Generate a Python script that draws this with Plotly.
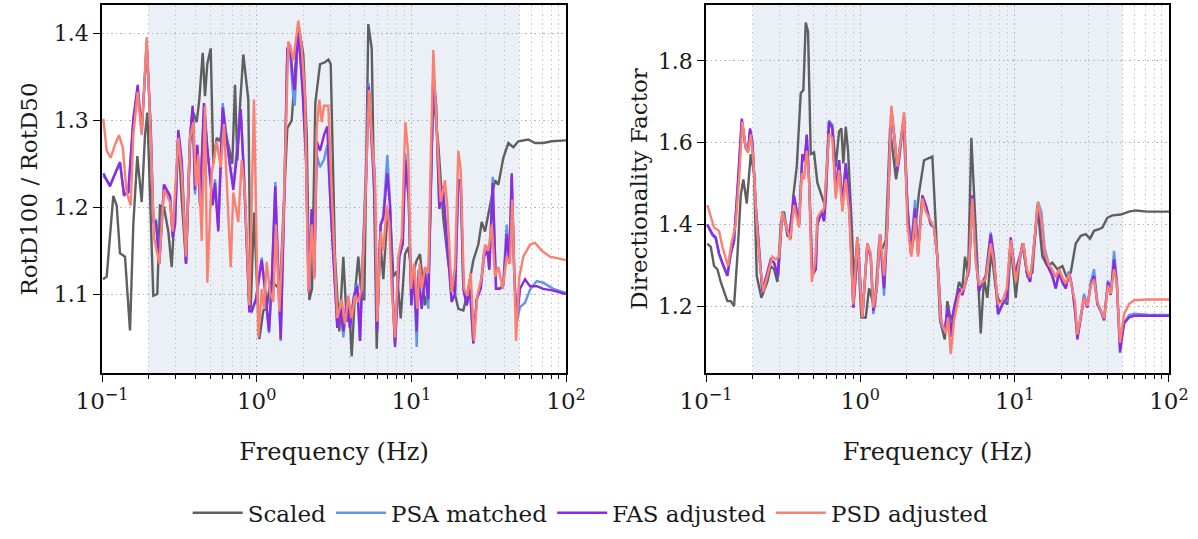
import plotly.graph_objects as go

# ---------------- data (log10 of frequency in Hz, and ratio values) ----------------
left_scaled_logf = [-0.9935,-0.9696,-0.9270,-0.9050,-0.8836,-0.8513,-0.8190,-0.7976,-0.7718,-0.7433,-0.7220,-0.7071,-0.6683,-0.6425,-0.6250,-0.5991,-0.5713,-0.5494,-0.5280,-0.5067,-0.4847,-0.4569,-0.4310,-0.4097,-0.3877,-0.3709,-0.3489,-0.3341,-0.3192,-0.2972,-0.2804,-0.2584,-0.2371,-0.2157,-0.1834,-0.1576,-0.1401,-0.1252,-0.1078,-0.0864,-0.0541,-0.0386,-0.0173,0.0170,0.0429,0.0648,0.0862,0.1036,0.1508,0.1980,0.2265,0.2368,0.2692,0.3015,0.3235,0.3403,0.3577,0.3791,0.4095,0.4418,0.4631,0.4786,0.5064,0.5342,0.5601,0.5821,0.5989,0.6144,0.6357,0.6571,0.6791,0.6959,0.7114,0.7217,0.7437,0.7586,0.7760,0.7974,0.8187,0.8407,0.8620,0.8834,0.9054,0.9312,0.9590,0.9803,1.0043,1.0347,1.0560,1.0883,1.1097,1.1420,1.1743,1.2067,1.2390,1.2713,1.3036,1.3360,1.3683,1.4006,1.4329,1.4549,1.4763,1.5086,1.5409,1.5622,1.5946,1.6269,1.6592,1.6915,1.7562,1.7995,1.8532,1.9075,2.0]
left_scaled_val = [1.117,1.120,1.213,1.202,1.147,1.143,1.058,1.180,1.259,1.206,1.283,1.309,1.098,1.100,1.202,1.200,1.172,1.131,1.202,1.283,1.209,1.135,1.272,1.309,1.298,1.324,1.378,1.328,1.365,1.383,1.250,1.280,1.276,1.298,1.272,1.250,1.341,1.254,1.317,1.376,1.324,1.083,1.194,1.048,1.081,1.083,1.113,1.113,1.106,1.291,1.300,1.328,1.411,1.376,1.283,1.093,1.106,1.320,1.365,1.367,1.370,1.365,1.143,1.057,1.143,1.068,1.083,1.028,1.102,1.143,1.094,1.094,1.328,1.411,1.383,1.217,1.037,1.165,1.117,1.180,1.198,1.120,1.126,1.072,1.146,1.154,1.120,1.139,1.146,1.087,1.106,1.331,1.272,1.187,1.135,1.109,1.083,1.081,1.106,1.139,1.157,1.183,1.172,1.202,1.231,1.226,1.257,1.274,1.269,1.276,1.278,1.274,1.274,1.276,1.277]

left_adj_logf = [-0.9914,-0.9483,-0.9050,-0.8836,-0.8578,-0.8300,-0.7976,-0.7692,-0.7433,-0.7110,-0.6851,-0.6683,-0.6509,-0.6295,-0.5991,-0.5817,-0.5604,-0.5429,-0.5280,-0.5067,-0.4847,-0.4569,-0.4310,-0.4136,-0.3987,-0.3838,-0.3664,-0.3405,-0.3192,-0.2843,-0.2694,-0.2481,-0.2196,-0.1983,-0.1724,-0.1511,-0.1291,-0.1032,-0.0819,-0.0476,-0.0321,-0.0043,0.0325,0.0539,0.0797,0.0972,0.1205,0.1399,0.1554,0.1767,0.1980,0.2155,0.2329,0.2459,0.2692,0.2976,0.3190,0.3364,0.3558,0.3726,0.3881,0.4095,0.4353,0.4567,0.4786,0.5213,0.5433,0.5601,0.5821,0.6034,0.6293,0.6506,0.6681,0.6894,0.7069,0.7243,0.7457,0.7631,0.7780,0.8019,0.8187,0.8446,0.8620,0.8795,0.8943,0.9222,0.9441,0.9609,0.9829,0.9997,1.0172,1.0347,1.0450,1.0670,1.0883,1.1097,1.1252,1.1420,1.1594,1.1808,1.2028,1.2196,1.2609,1.2823,1.3036,1.3191,1.3360,1.3579,1.3792,1.4006,1.4226,1.4484,1.4698,1.4911,1.5040,1.5260,1.5474,1.5732,1.5946,1.6166,1.6334,1.6489,1.6657,1.6812,1.7025,1.7349,1.7672,1.8105,1.8532,1.9178,2.0]
left_fas_val = [1.239,1.224,1.243,1.252,1.215,1.217,1.302,1.341,1.287,1.390,1.291,1.183,1.183,1.135,1.226,1.220,1.213,1.165,1.180,1.289,1.254,1.135,1.280,1.317,1.220,1.272,1.202,1.320,1.269,1.202,1.228,1.172,1.315,1.283,1.246,1.220,1.257,1.313,1.235,1.080,1.080,1.094,1.139,1.106,1.057,1.113,1.224,1.113,1.048,1.198,1.383,1.387,1.350,1.335,1.409,1.331,1.254,1.102,1.198,1.120,1.276,1.265,1.283,1.293,1.198,1.061,1.083,1.057,1.091,1.061,1.098,1.109,1.046,1.157,1.231,1.339,1.269,1.209,1.057,1.180,1.187,1.239,1.202,1.098,1.039,1.143,1.157,1.254,1.209,1.087,1.128,1.057,1.120,1.083,1.124,1.094,1.217,1.354,1.317,1.198,1.224,1.183,1.091,1.100,1.231,1.231,1.106,1.087,1.106,1.043,1.094,1.106,1.143,1.150,1.128,1.228,1.106,1.106,1.110,1.169,1.135,1.239,1.120,1.068,1.106,1.117,1.109,1.109,1.106,1.104,1.100]
left_psa_val = [1.236,1.226,1.243,1.250,1.213,1.217,1.300,1.336,1.287,1.385,1.291,1.183,1.185,1.137,1.226,1.218,1.213,1.168,1.180,1.285,1.252,1.138,1.280,1.315,1.215,1.270,1.205,1.318,1.266,1.205,1.232,1.175,1.320,1.283,1.246,1.225,1.262,1.310,1.238,1.083,1.080,1.094,1.142,1.106,1.055,1.113,1.229,1.113,1.046,1.198,1.380,1.380,1.335,1.317,1.405,1.335,1.262,1.102,1.198,1.120,1.260,1.246,1.255,1.272,1.198,1.061,1.086,1.050,1.091,1.061,1.098,1.112,1.046,1.160,1.235,1.343,1.270,1.243,1.060,1.180,1.190,1.260,1.205,1.098,1.042,1.143,1.160,1.262,1.209,1.087,1.120,1.039,1.128,1.083,1.130,1.083,1.215,1.350,1.320,1.200,1.224,1.183,1.091,1.100,1.231,1.228,1.108,1.087,1.106,1.043,1.094,1.110,1.150,1.155,1.128,1.235,1.106,1.106,1.113,1.180,1.140,1.236,1.120,1.068,1.085,1.090,1.105,1.115,1.113,1.106,1.101]

left_psd_logf = [-0.9914,-0.9696,-0.9438,-0.9160,-0.8901,-0.8662,-0.8403,-0.8144,-0.7976,-0.7692,-0.7433,-0.7110,-0.6851,-0.6638,-0.6295,-0.5991,-0.5604,-0.5429,-0.5067,-0.4847,-0.4569,-0.4310,-0.4097,-0.3922,-0.3773,-0.3554,-0.3341,-0.3192,-0.2908,-0.2584,-0.2326,-0.2112,-0.1679,-0.1511,-0.1188,-0.0968,-0.0754,-0.0476,-0.0173,0.0105,0.0325,0.0474,0.0648,0.0862,0.1075,0.1250,0.1463,0.1722,0.2045,0.2200,0.2368,0.2692,0.2911,0.3125,0.3338,0.3558,0.3726,0.3881,0.4049,0.4204,0.4353,0.4631,0.4851,0.5213,0.5498,0.5711,0.5924,0.6144,0.6357,0.6571,0.6791,0.6940,0.7114,0.7263,0.7437,0.7650,0.7799,0.8019,0.8187,0.8407,0.8575,0.8730,0.8943,0.9157,0.9377,0.9609,0.9803,0.9978,1.0172,1.0385,1.0540,1.0670,1.0883,1.1097,1.1252,1.1420,1.1637,1.1895,1.2173,1.2322,1.2609,1.2823,1.3036,1.3191,1.3405,1.3618,1.3838,1.4051,1.4265,1.4549,1.4763,1.4976,1.5196,1.5409,1.5622,1.5907,1.6166,1.6379,1.6528,1.6767,1.6980,1.7239,1.7672,1.7995,1.8428,1.8965,2.0]
left_psd_val = [1.302,1.265,1.257,1.272,1.283,1.269,1.217,1.202,1.283,1.333,1.283,1.396,1.283,1.165,1.135,1.220,1.206,1.172,1.280,1.239,1.143,1.280,1.298,1.224,1.261,1.161,1.317,1.113,1.239,1.276,1.246,1.296,1.131,1.217,1.183,1.254,1.217,1.087,1.324,1.050,1.106,1.083,1.137,1.102,1.091,1.180,1.080,1.180,1.391,1.383,1.369,1.415,1.383,1.328,1.102,1.180,1.117,1.291,1.324,1.298,1.317,1.317,1.217,1.072,1.094,1.065,1.098,1.072,1.098,1.091,1.106,1.165,1.254,1.335,1.283,1.224,1.068,1.172,1.150,1.202,1.180,1.106,1.050,1.143,1.165,1.298,1.261,1.106,1.135,1.083,1.135,1.106,1.131,1.124,1.254,1.381,1.291,1.206,1.231,1.202,1.102,1.131,1.265,1.243,1.106,1.098,1.124,1.046,1.098,1.120,1.157,1.150,1.180,1.120,1.131,1.106,1.143,1.135,1.209,1.046,1.120,1.143,1.157,1.159,1.150,1.143,1.139]

right_scaled_logf = [-0.9914,-0.9693,-0.9480,-0.9266,-0.9046,-0.8832,-0.8618,-0.8398,-0.8184,-0.7970,-0.7750,-0.7581,-0.7361,-0.7102,-0.6888,-0.6713,-0.6415,-0.6026,-0.5806,-0.5592,-0.5378,-0.5158,-0.4944,-0.4730,-0.4510,-0.4341,-0.4121,-0.3862,-0.3693,-0.3538,-0.3389,-0.3214,-0.3000,-0.2786,-0.2462,-0.2307,-0.2028,-0.1814,-0.1594,-0.1380,-0.1231,-0.1102,-0.0946,-0.0797,-0.0583,-0.0408,-0.0194,0.0065,0.0350,0.0564,0.0933,0.1212,0.1426,0.1646,0.1924,0.2138,0.2313,0.2508,0.2786,0.3045,0.3305,0.3590,0.3804,0.4128,0.4387,0.4665,0.4886,0.5164,0.5469,0.5637,0.5858,0.6071,0.6395,0.6609,0.6784,0.6979,0.7192,0.7367,0.7627,0.7801,0.8015,0.8229,0.8488,0.8773,0.8987,0.9311,0.9525,0.9745,1.0069,1.0283,1.0497,1.0821,1.1145,1.1469,1.1793,1.2117,1.2441,1.2765,1.3089,1.3413,1.3633,1.3957,1.4281,1.4605,1.4884,1.5143,1.5467,1.5681,1.6005,1.6329,1.6873,1.7411,1.7845,1.8597,2.0]
right_scaled_val = [1.353,1.345,1.298,1.290,1.259,1.235,1.212,1.212,1.200,1.321,1.471,1.510,1.451,1.572,1.525,1.274,1.220,1.259,1.298,1.290,1.259,1.400,1.431,1.372,1.368,1.471,1.541,1.721,1.729,1.894,1.871,1.572,1.576,1.502,1.463,1.447,1.651,1.643,1.541,1.627,1.635,1.549,1.639,1.580,1.416,1.259,1.368,1.172,1.172,1.243,1.196,1.353,1.340,1.361,1.635,1.572,1.510,1.557,1.651,1.447,1.329,1.400,1.478,1.557,1.561,1.566,1.400,1.165,1.118,1.212,1.165,1.188,1.259,1.243,1.321,1.274,1.612,1.478,1.243,1.133,1.267,1.220,1.337,1.243,1.212,1.212,1.204,1.353,1.220,1.298,1.353,1.274,1.282,1.447,1.321,1.298,1.306,1.290,1.298,1.267,1.282,1.353,1.372,1.376,1.365,1.384,1.388,1.392,1.416,1.422,1.424,1.431,1.434,1.431,1.431]

right_adj_logf = [-0.9914,-0.9590,-0.9370,-0.9156,-0.8942,-0.8618,-0.8398,-0.8184,-0.7925,-0.7685,-0.7426,-0.7277,-0.7147,-0.6998,-0.6778,-0.6564,-0.6350,-0.6130,-0.5806,-0.5592,-0.5333,-0.5054,-0.4834,-0.4620,-0.4296,-0.3972,-0.3758,-0.3603,-0.3473,-0.3324,-0.3110,-0.2890,-0.2786,-0.2527,-0.2352,-0.2223,-0.2028,-0.1814,-0.1594,-0.1380,-0.1166,-0.0946,-0.0732,-0.0454,-0.0149,0.0130,0.0454,0.0674,0.0842,0.1063,0.1276,0.1536,0.1750,0.2009,0.2184,0.2397,0.2618,0.2832,0.3045,0.3266,0.3544,0.3739,0.4017,0.4238,0.4562,0.4775,0.4989,0.5249,0.5469,0.5683,0.5858,0.6071,0.6395,0.6609,0.6830,0.7043,0.7257,0.7477,0.7691,0.7905,0.8125,0.8450,0.8663,0.8923,0.9201,0.9486,0.9745,1.0069,1.0173,1.0393,1.0562,1.0782,1.0996,1.1145,1.1365,1.1514,1.1728,1.1948,1.2227,1.2441,1.2661,1.2875,1.3089,1.3309,1.3523,1.3737,1.3912,1.4061,1.4281,1.4495,1.4709,1.4929,1.5143,1.5357,1.5577,1.5791,1.6050,1.6225,1.6439,1.6614,1.6827,1.7087,1.7411,1.7735,1.8597,2.0]
right_fas_val = [1.400,1.376,1.368,1.329,1.306,1.274,1.329,1.361,1.510,1.659,1.588,1.580,1.635,1.604,1.447,1.329,1.235,1.267,1.314,1.306,1.274,1.431,1.400,1.368,1.471,1.400,1.572,1.557,1.620,1.510,1.274,1.290,1.400,1.431,1.408,1.478,1.651,1.635,1.478,1.557,1.447,1.549,1.463,1.196,1.353,1.172,1.353,1.321,1.188,1.243,1.376,1.243,1.400,1.682,1.620,1.533,1.604,1.667,1.439,1.329,1.439,1.329,1.471,1.447,1.400,1.392,1.321,1.157,1.141,1.196,1.125,1.196,1.243,1.227,1.259,1.290,1.471,1.321,1.235,1.259,1.274,1.376,1.314,1.180,1.204,1.220,1.368,1.267,1.300,1.330,1.353,1.282,1.259,1.306,1.384,1.447,1.400,1.321,1.290,1.274,1.243,1.282,1.259,1.243,1.282,1.243,1.188,1.118,1.172,1.220,1.196,1.251,1.274,1.204,1.188,1.165,1.259,1.227,1.314,1.259,1.086,1.157,1.172,1.176,1.176,1.176]
right_psa_val = [1.398,1.373,1.365,1.326,1.304,1.274,1.326,1.358,1.500,1.652,1.585,1.578,1.630,1.600,1.447,1.329,1.238,1.267,1.312,1.306,1.274,1.431,1.400,1.368,1.466,1.400,1.567,1.553,1.615,1.510,1.278,1.290,1.400,1.431,1.408,1.478,1.655,1.638,1.478,1.557,1.447,1.549,1.463,1.196,1.350,1.172,1.350,1.318,1.180,1.243,1.376,1.225,1.400,1.682,1.620,1.533,1.604,1.660,1.450,1.335,1.460,1.335,1.465,1.447,1.400,1.392,1.321,1.150,1.141,1.196,1.125,1.196,1.243,1.227,1.259,1.290,1.465,1.330,1.240,1.259,1.274,1.380,1.320,1.180,1.204,1.215,1.360,1.270,1.300,1.330,1.353,1.282,1.259,1.306,1.390,1.455,1.430,1.340,1.300,1.274,1.243,1.282,1.259,1.243,1.285,1.243,1.188,1.125,1.172,1.230,1.200,1.258,1.290,1.210,1.188,1.168,1.262,1.227,1.335,1.262,1.100,1.160,1.178,1.181,1.179,1.178]

right_psd_logf = [-0.9914,-0.9693,-0.9480,-0.9156,-0.8942,-0.8573,-0.8359,-0.8074,-0.7860,-0.7646,-0.7426,-0.7277,-0.7102,-0.6933,-0.6713,-0.6499,-0.6285,-0.6026,-0.5702,-0.5482,-0.5268,-0.5054,-0.4834,-0.4555,-0.4296,-0.3972,-0.3797,-0.3648,-0.3473,-0.3324,-0.3149,-0.2935,-0.2786,-0.2566,-0.2352,-0.2223,-0.2028,-0.1814,-0.1594,-0.1380,-0.1166,-0.0946,-0.0732,-0.0454,-0.0194,0.0130,0.0454,0.0674,0.0842,0.1063,0.1276,0.1536,0.1750,0.2009,0.2184,0.2397,0.2618,0.2832,0.3045,0.3305,0.3544,0.3739,0.4017,0.4238,0.4562,0.4775,0.4989,0.5210,0.5534,0.5683,0.5858,0.6071,0.6395,0.6719,0.7043,0.7257,0.7477,0.7691,0.8125,0.8450,0.8663,0.8923,0.9201,0.9486,0.9745,1.0069,1.0393,1.0562,1.0782,1.0996,1.1145,1.1365,1.1514,1.1728,1.1948,1.2227,1.2441,1.2661,1.2875,1.3089,1.3309,1.3523,1.3737,1.3912,1.4061,1.4281,1.4495,1.4709,1.4929,1.5143,1.5357,1.5577,1.5791,1.6050,1.6225,1.6439,1.6614,1.6827,1.7087,1.7411,1.7735,1.8597,2.0]
right_psd_val = [1.447,1.416,1.392,1.384,1.345,1.298,1.353,1.400,1.510,1.651,1.588,1.575,1.620,1.557,1.400,1.298,1.235,1.274,1.321,1.314,1.321,1.431,1.400,1.361,1.447,1.392,1.525,1.510,1.580,1.510,1.259,1.306,1.416,1.431,1.439,1.510,1.620,1.612,1.463,1.533,1.431,1.510,1.431,1.204,1.368,1.172,1.353,1.329,1.196,1.243,1.376,1.274,1.400,1.690,1.620,1.541,1.604,1.675,1.400,1.321,1.416,1.321,1.463,1.431,1.408,1.392,1.321,1.165,1.133,1.172,1.082,1.165,1.227,1.243,1.298,1.463,1.306,1.251,1.267,1.353,1.306,1.204,1.212,1.243,1.361,1.259,1.330,1.353,1.290,1.270,1.310,1.400,1.455,1.410,1.330,1.300,1.290,1.270,1.290,1.270,1.255,1.280,1.245,1.210,1.130,1.180,1.220,1.200,1.250,1.265,1.210,1.190,1.170,1.250,1.230,1.290,1.255,1.110,1.180,1.205,1.214,1.216,1.216]

series_names = ["Scaled", "PSA matched", "FAS adjusted", "PSD adjusted"]
series_colors = ["#5f5f5f", "#6495ED", "#8A2BE2", "#FA8072"]
band_hz = [0.2, 50.0]
x_tick_vals = [0.1, 1, 10, 100]
x_tick_text = ["10<sup>\u22121</sup>", "10<sup>0</sup>", "10<sup>1</sup>", "10<sup>2</sup>"]
y_title_left = "RotD100 / RotD50"
y_title_right = "Directionality Factor"
x_title = "Frequency (Hz)"


def hz(logs):
    return [10 ** v for v in logs]


FONT = "DejaVu Serif"
TXT = "#1a1a1a"
fig = go.Figure()

panels = [
    ("x", "y", [
        (left_scaled_logf, left_scaled_val),
        (left_adj_logf, left_psa_val),
        (left_adj_logf, left_fas_val),
        (left_psd_logf, left_psd_val),
    ]),
    ("x2", "y2", [
        (right_scaled_logf, right_scaled_val),
        (right_adj_logf, right_psa_val),
        (right_adj_logf, right_fas_val),
        (right_psd_logf, right_psd_val),
    ]),
]

for pi, (xa, ya, series) in enumerate(panels):
    for si, (lf, vals) in enumerate(series):
        fig.add_trace(go.Scatter(
            x=hz(lf), y=vals, mode="lines",
            name=series_names[si],
            line=dict(color=series_colors[si], width=2.4),
            showlegend=(pi == 0), legendgroup=series_names[si],
            xaxis=xa, yaxis=ya,
        ))
    fig.add_shape(type="rect", xref=xa, yref=ya + " domain",
                  x0=band_hz[0], x1=band_hz[1], y0=0, y1=1,
                  fillcolor="rgba(176,196,222,0.25)", line=dict(width=0),
                  layer="below")

GRID_DASH = "1.5px,3px"
common_x = dict(
    type="log", range=[-1, 2], tickvals=x_tick_vals, ticktext=x_tick_text,
    ticks="outside", ticklen=7, tickwidth=1.3, tickcolor="black",
    showline=True, linecolor="black", linewidth=1.5, mirror=True,
    showgrid=True, gridcolor="#b4b4b4", griddash=GRID_DASH, gridwidth=1.2,
    minor=dict(dtick="D1", ticks="outside", ticklen=4, tickcolor="black", tickwidth=1,
               showgrid=True, gridcolor="#c8c8c8", griddash=GRID_DASH, gridwidth=1),
    tickfont=dict(family=FONT, size=23, color=TXT),
    title=dict(text=x_title, font=dict(family=FONT, size=24, color=TXT), standoff=30),
    zeroline=False, automargin=False,
)
common_y = dict(
    ticks="outside", ticklen=7, tickwidth=1.3, tickcolor="black",
    showline=True, linecolor="black", linewidth=1.5, mirror=True,
    showgrid=True, gridcolor="#b4b4b4", griddash=GRID_DASH, gridwidth=1.2,
    tickfont=dict(family=FONT, size=22, color=TXT),
    tickformat=".1f", zeroline=False, automargin=False,
)

fig.update_layout(
    width=1198, height=539,
    margin=dict(l=102, r=29, t=5, b=152),
    paper_bgcolor="white", plot_bgcolor="white",
    font=dict(family=FONT, size=20, color=TXT),
    xaxis=dict(domain=[0.0, 0.4349], anchor="y", **common_x),
    xaxis2=dict(domain=[0.5661, 1.0], anchor="y2", **common_x),
    yaxis=dict(domain=[0, 1], anchor="x", range=[1.009, 1.433], dtick=0.1,
               title=dict(text=y_title_left, font=dict(family=FONT, size=23, color=TXT), standoff=10),
               **common_y),
    yaxis2=dict(domain=[0, 1], anchor="x2", range=[1.036, 1.937], dtick=0.2,
                title=dict(text=y_title_right, font=dict(family=FONT, size=23, color=TXT), standoff=4),
                **common_y),
    legend=dict(orientation="h", x=0.458, xanchor="center", y=-0.38, yanchor="middle",
                font=dict(family="DejaVu Serif, serif", size=23, color=TXT),
                itemwidth=50, tracegroupgap=0, bgcolor="rgba(0,0,0,0)"),
    showlegend=True,
)

fig.write_html("out.html")
